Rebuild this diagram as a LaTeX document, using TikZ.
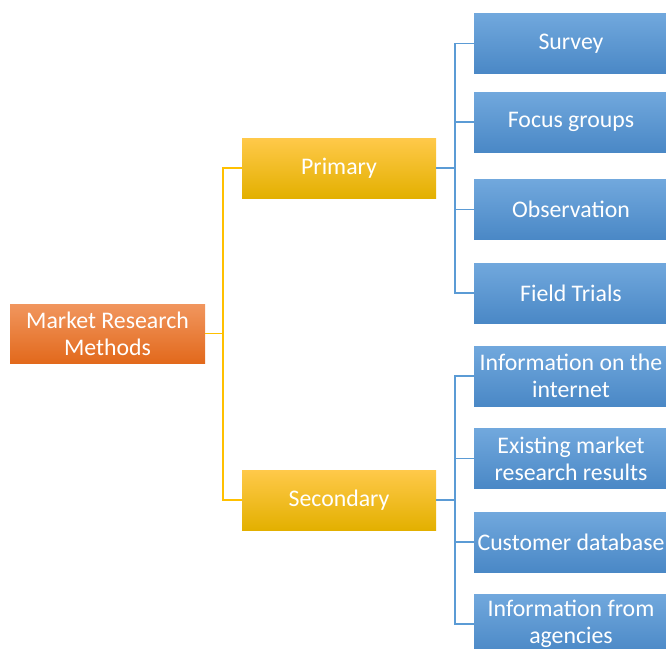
\documentclass[tikz,border=0pt]{standalone}
\usepackage{fontspec}
\setmainfont{Carlito}
\definecolor{orT}{HTML}{F1965E}
\definecolor{orM}{HTML}{F07F2A}
\definecolor{orB}{HTML}{E2691C}
\definecolor{yeT}{HTML}{FFC94A}
\definecolor{yeM}{HTML}{FFC000}
\definecolor{yeB}{HTML}{E3B000}
\definecolor{blT}{HTML}{71A8DD}
\definecolor{blM}{HTML}{5B9BD5}
\definecolor{blB}{HTML}{4A88C6}
\definecolor{yline}{HTML}{FFC000}
\definecolor{bline}{HTML}{5B9BD5}
\tikzset{
  box/.style={rectangle, inner sep=0pt, align=center, text=white,
    font=\fontsize{23.8}{27}\selectfont, minimum height=60pt},
  rootbox/.style={box, minimum width=195pt, minimum height=59pt,
    top color=orT, middle color=orM, bottom color=orB},
  midbox/.style={box, minimum width=194pt,
    top color=yeT, middle color=yeM, bottom color=yeB},
  leafbox/.style={box, minimum width=194pt,
    top color=blT, middle color=blM, bottom color=blB},
  yconn/.style={draw=yline, line width=1.4pt},
  bconn/.style={draw=bline, line width=1.4pt}
}
\begin{document}
\begin{tikzpicture}[x=1pt,y=-1pt]
\useasboundingbox (0,0) rectangle (666,648);
\clip (0,0) rectangle (666,648);
\node[rootbox] (root) at (107.5,333.5) {Market Research\\Methods};
\node[midbox] (prim) at (339,168) {Primary};
\node[midbox] (sec) at (339,500) {Secondary};
\node[leafbox] (survey) at (571,43.5) {Survey};
\node[leafbox] (focus) at (571,122) {Focus groups};
\node[leafbox] (obs) at (571,209.5) {Observation};
\node[leafbox] (field) at (571,293) {Field Trials};
\node[leafbox] (inet) at (571,376) {Information on the\\internet};
\node[leafbox] (exist) at (571,458.5) {Existing market\\research results};
\node[leafbox] (cust) at (571,542) {Customer database};
\node[leafbox] (agen) at (571,624) {Information from\\agencies};
\coordinate (yj) at (223,333.5);
\coordinate (pj) at (455,168);
\coordinate (sj) at (455,500);
\draw[yconn] (root.east) -- (yj);
\draw[yconn] (yj) |- (prim.west);
\draw[yconn] (yj) |- (sec.west);
\draw[bconn] (prim.east) -- (pj);
\foreach \n in {survey,focus,obs,field} \draw[bconn] (pj) |- (\n.west);
\draw[bconn] (sec.east) -- (sj);
\foreach \n in {inet,exist,cust,agen} \draw[bconn] (sj) |- (\n.west);
\end{tikzpicture}
\end{document}
